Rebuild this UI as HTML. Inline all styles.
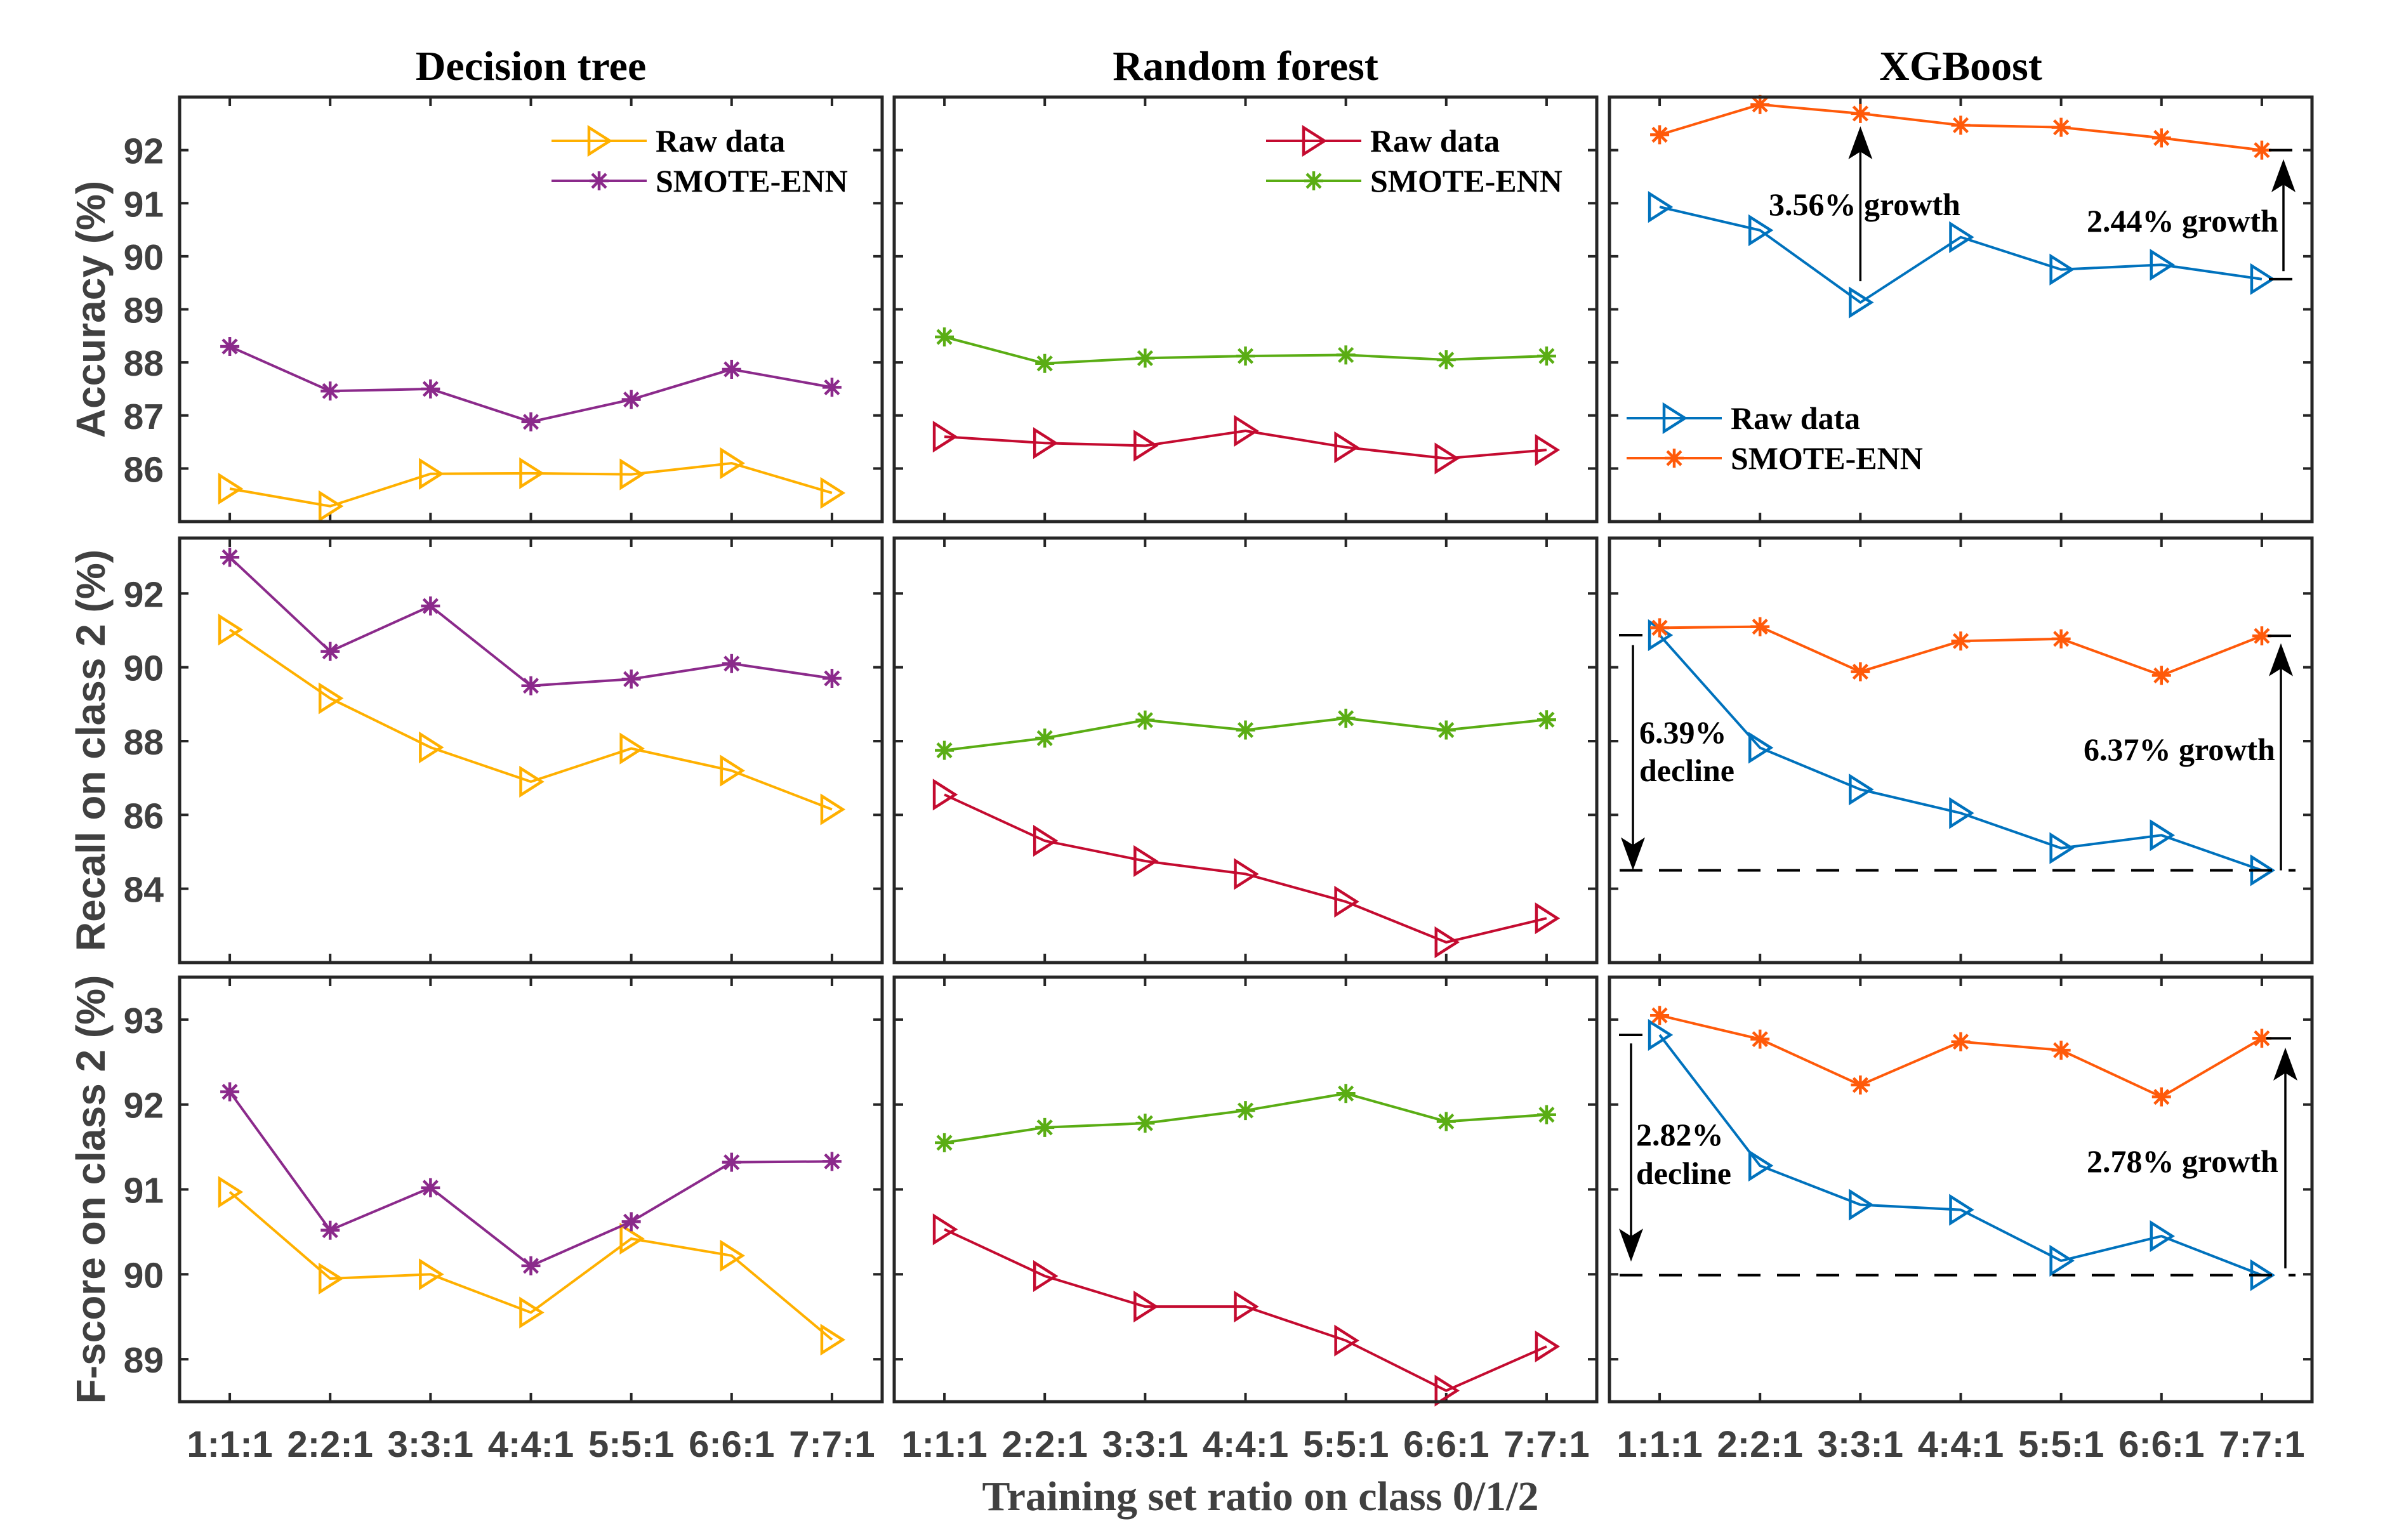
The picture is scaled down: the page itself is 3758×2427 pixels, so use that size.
<!DOCTYPE html>
<html><head><meta charset="utf-8">
<style>
html,body{margin:0;padding:0;background:#fff;}
svg{display:block;}
</style></head>
<body>
<svg id="fig" width="3758" height="2427" viewBox="0 0 3758 2427" xmlns="http://www.w3.org/2000/svg"></svg>
<script>
// ---- data ----
const categories = ["1:1:1","2:2:1","3:3:1","4:4:1","5:5:1","6:6:1","7:7:1"];
const modelTitles = ["Decision tree","Random forest","XGBoost"];
const rowLabels = ["Accuracy (%)","Recall on class 2 (%)","F-score on class 2 (%)"];
const yTicksAcc = [86,87,88,89,90,91,92];
const yTicksRec = [84,86,88,90,92];
const yTicksF = [89,90,91,92,93];
const yLimAcc = [85,93];
const yLimRec = [82,93.5];
const yLimF = [88.5,93.5];
// Decision tree
const dtAccRaw = [85.62,85.29,85.9,85.91,85.89,86.1,85.54];
const dtAccSmote = [88.3,87.46,87.5,86.88,87.3,87.87,87.53];
const dtRecRaw = [91.02,89.16,87.83,86.9,87.8,87.2,86.15];
const dtRecSmote = [92.98,90.43,91.66,89.5,89.68,90.1,89.7];
const dtFRaw = [90.97,89.95,90.0,89.55,90.42,90.22,89.23];
const dtFSmote = [92.15,90.52,91.02,90.1,90.62,91.32,91.33];
// Random forest
const rfAccRaw = [86.6,86.48,86.43,86.71,86.4,86.19,86.35];
const rfAccSmote = [88.48,87.98,88.08,88.12,88.14,88.05,88.12];
const rfRecRaw = [86.55,85.3,84.75,84.4,83.65,82.55,83.2];
const rfRecSmote = [87.75,88.08,88.57,88.3,88.62,88.3,88.58];
const rfFRaw = [90.53,89.98,89.62,89.62,89.22,88.63,89.15];
const rfFSmote = [91.55,91.73,91.78,91.93,92.13,91.8,91.88];
// XGBoost
const xgAccRaw = [90.93,90.49,89.13,90.36,89.75,89.84,89.57];
const xgAccSmote = [92.29,92.86,92.69,92.47,92.43,92.23,92.0];
const xgRecRaw = [90.87,87.82,86.69,86.05,85.1,85.45,84.5];
const xgRecSmote = [91.07,91.1,89.88,90.71,90.77,89.78,90.85];
const xgFRaw = [92.82,91.28,90.82,90.76,90.16,90.45,89.99];
const xgFSmote = [93.05,92.77,92.23,92.74,92.64,92.09,92.78];

const NS="http://www.w3.org/2000/svg";
const svg=document.getElementById('fig');
function el(tag,attrs,parent){const e=document.createElementNS(NS,tag);for(const k in attrs)e.setAttribute(k,attrs[k]);(parent||svg).appendChild(e);return e;}

const colLeft=[283,1409,2536], W=1107;
const rowTop=[153,848,1540], H=669;
const rows=[{lim:yLimAcc,ticks:yTicksAcc},{lim:yLimRec,ticks:yTicksRec},{lim:yLimF,ticks:yTicksF}];
const colors=[["#FFB000","#8B2A8B"],["#C40B30","#5AAD14"],["#0072BD","#FF5A0A"]];
const data=[
 [[dtAccRaw,dtAccSmote],[dtRecRaw,dtRecSmote],[dtFRaw,dtFSmote]],
 [[rfAccRaw,rfAccSmote],[rfRecRaw,rfRecSmote],[rfFRaw,rfFSmote]],
 [[xgAccRaw,xgAccSmote],[xgRecRaw,xgRecSmote],[xgFRaw,xgFSmote]]
];
function xScale(c,i){return colLeft[c]+W*((i+1)-0.5)/7;}
function yScale(r,v){const l=rows[r].lim;return rowTop[r]+H*(l[1]-v)/(l[1]-l[0]);}

function triMarker(g,x,y,col){
  const t=el('polygon',{points:`${x-16},${y-21} ${x+17},${y} ${x-16},${y+21}`,fill:'none',stroke:col,'stroke-width':4.5},g);
  
}
function starMarker(g,x,y,col){
  const s=15,d=11;
  const p=el('path',{d:`M${x-s},${y}H${x+s}M${x},${y-s}V${y+s}M${x-d},${y-d}L${x+d},${y+d}M${x-d},${y+d}L${x+d},${y-d}`,stroke:col,'stroke-width':4.5,fill:'none'},g);
  
}

for(let c=0;c<3;c++){
  const t=el('text',{x:colLeft[c]+W/2,y:126,'text-anchor':'middle','font-family':'"Liberation Serif",serif','font-weight':'bold','font-size':66,fill:'#000'});
  t.textContent=modelTitles[c];
  
  for(let r=0;r<3;r++){
    const g=el('g',{});
    
    const L=colLeft[c],T=rowTop[r];
    let tp='';
    for(let i=0;i<7;i++){const x=xScale(c,i);tp+=`M${x},${T}v14M${x},${T+H}v-14`;}
    rows[r].ticks.forEach(v=>{const y=yScale(r,v);tp+=`M${L},${y}h14M${L+W},${y}h-14`;});
    const tk=el('path',{d:tp,stroke:'#262626','stroke-width':4,fill:'none'},g);
    
    data[c][r].forEach((series,si)=>{
      const col=colors[c][si];
      const pts=series.map((v,i)=>`${xScale(c,i)},${yScale(r,v)}`).join(' ');
      const pl=el('polyline',{points:pts,fill:'none',stroke:col,'stroke-width':4},g);
      
      series.forEach((v,i)=>{si===0?triMarker(g,xScale(c,i),yScale(r,v),col):starMarker(g,xScale(c,i),yScale(r,v),col);});
    });
    const box=el('rect',{x:L,y:T,width:W,height:H,fill:'none',stroke:'#262626','stroke-width':5},g);
    
    if(c===0){
      rows[r].ticks.forEach(v=>{
        const tl=el('text',{x:258,y:yScale(r,v)+21,'text-anchor':'end','font-family':'"Liberation Sans",sans-serif','font-weight':'bold','font-size':57,fill:'#404040'});
        tl.textContent=String(v);
        
      });
      const yl=el('text',{x:0,y:0,transform:`translate(165,${T+H/2}) rotate(-90)`,'text-anchor':'middle','font-family':'"Liberation Sans",sans-serif','font-weight':'bold','font-size':64,fill:'#404040'});
      yl.textContent=rowLabels[r];
      
    }
    if(r===2){
      categories.forEach((cat,i)=>{
        const xl=el('text',{x:xScale(c,i),y:2296,'text-anchor':'middle','font-family':'"Liberation Sans",sans-serif','font-weight':'bold','font-size':58,fill:'#404040'});
        xl.textContent=cat;
        
      });
    }
  }
}

function legend(lx,ly,c,name){
  const g=el('g',{});
  
  ["Raw data","SMOTE-ENN"].forEach((lab,k)=>{
    const y=ly+k*63, col=colors[c][k];
    const ln=el('line',{x1:lx,y1:y,x2:lx+150,y2:y,stroke:col,'stroke-width':4},g);
    
    k===0?triMarker(g,lx+75,y,col):starMarker(g,lx+75,y,col);
    const t=el('text',{x:lx+164,y:y+17,'font-family':'"Liberation Serif",serif','font-weight':'bold','font-size':50,fill:'#000'},g);
    t.textContent=lab;
    
  });
}
legend(869,222,0,'legend-decision-tree');
legend(1995,222,1,'legend-random-forest');
legend(2563,659,2,'legend-xgboost');

function arrow(x,y1,y2,name){
  const dir=y2<y1?1:-1;
  const ln=el('line',{x1:x,y1:y1,x2:x,y2:y2+dir*40,stroke:'#000','stroke-width':3.5});
  
  const hd=el('polygon',{points:`${x},${y2} ${x-19},${y2+dir*52} ${x},${y2+dir*40} ${x+19},${y2+dir*52}`,fill:'#000'});
  
}
function hline(x1,x2,y,name,dash){
  const l=el('line',{x1:x1,y1:y,x2:x2,y2:y,stroke:'#000','stroke-width':4});
  if(dash)l.setAttribute('stroke-dasharray','36 26');
  
}
function label(x,y,txt,name){
  const t=el('text',{x:x,y:y,'font-family':'"Liberation Serif",serif','font-weight':'bold','font-size':50,fill:'#000'});
  t.textContent=txt;
}
arrow(xScale(2,2),yScale(0,89.53),yScale(0,92.45),'acc-arrow-1');
label(2787,339,'3.56% growth','acc-growth-label-1');
hline(3575,3612,yScale(0,xgAccSmote[6]),'acc-ref-top');
hline(3575,3612,yScale(0,xgAccRaw[6]),'acc-ref-bottom');
arrow(3598,yScale(0,89.72),yScale(0,91.83),'acc-arrow-2');
label(3288,365,'2.44% growth','acc-growth-label-2');
hline(2552,3617,yScale(1,xgRecRaw[6]),'recall-dashed-line',true);
hline(2551,2588,yScale(1,xgRecRaw[0]),'recall-ref-left');
arrow(2573,yScale(1,90.6),yScale(1,xgRecRaw[6]),'recall-decline-arrow');
label(2583,1171,'6.39%','recall-decline-label');
label(2583,1231,'decline','recall-decline-label-2');
hline(3573,3610,yScale(1,xgRecSmote[6]),'recall-ref-right');
arrow(3594,yScale(1,xgRecRaw[6]),yScale(1,90.65),'recall-growth-arrow');
label(3283,1198,'6.37% growth','recall-growth-label');
hline(2552,3617,yScale(2,xgFRaw[6]),'fscore-dashed-line',true);
hline(2551,2588,yScale(2,xgFRaw[0]),'fscore-ref-left');
arrow(2570,yScale(2,92.72),yScale(2,90.15),'fscore-decline-arrow');
label(2578,1805,'2.82%','fscore-decline-label');
label(2578,1866,'decline','fscore-decline-label-2');
hline(3571,3610,yScale(2,xgFSmote[6]),'fscore-ref-right');
arrow(3601,yScale(2,90.07),yScale(2,92.67),'fscore-growth-arrow');
label(3288,1847,'2.78% growth','fscore-growth-label');

const xt=el('text',{x:1986,y:2380,'text-anchor':'middle','font-family':'"Liberation Serif",serif','font-weight':'bold','font-size':66,fill:'#404040'});
xt.textContent='Training set ratio on class 0/1/2';


</script>
</body></html>
